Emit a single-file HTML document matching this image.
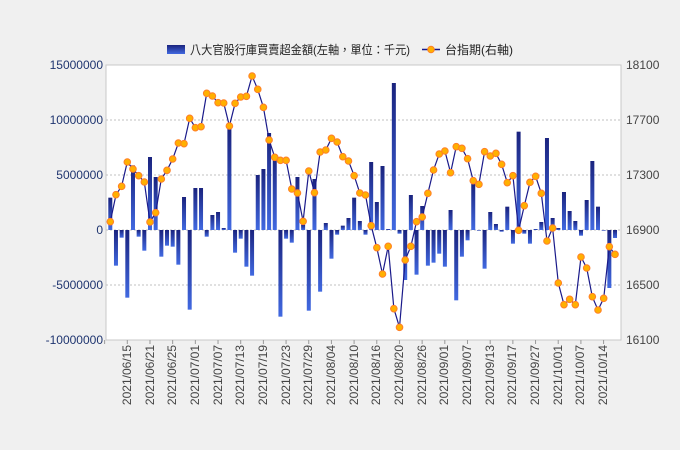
<!DOCTYPE html>
<html><head><meta charset="utf-8"><style>
body{margin:0;background:#f0f0f0;width:680px;height:450px;overflow:hidden;font-family:"Liberation Sans","Noto Sans CJK TC",sans-serif;}
svg{position:absolute;left:0;top:0}
.l{font-size:12px;fill:#1f3570;text-anchor:end}
.r{font-size:12px;fill:#444;text-anchor:start}
.x{font-size:12px;fill:#444;text-anchor:end}
</style></head><body>
<svg width="680" height="450" xmlns="http://www.w3.org/2000/svg">
<defs>
<linearGradient id="g" x1="0" y1="0" x2="0" y2="1"><stop offset="0" stop-color="#1a237e"/><stop offset="1" stop-color="#4169e1"/></linearGradient>
</defs>
<rect x="106" y="65" width="515" height="275" fill="#fff" stroke="#c8c8c8"/>
<g stroke="#c0c0c0" stroke-dasharray="2,2">
<line x1="106" x2="621" y1="120" y2="120"/><line x1="106" x2="621" y1="175" y2="175"/>
<line x1="106" x2="621" y1="230" y2="230"/><line x1="106" x2="621" y1="285" y2="285"/>
</g>
<g id="bars"></g>
<polyline id="ln" fill="none" stroke="#1a1a8a" stroke-width="1.2"/>
<g id="pts"></g>
<g id="ticks" stroke="#999"></g>
<text class="l" x="103" y="69">15000000</text>
<text class="l" x="103" y="124">10000000</text>
<text class="l" x="103" y="179">5000000</text>
<text class="l" x="103" y="234">0</text>
<text class="l" x="103" y="289">-5000000</text>
<text class="l" x="103" y="344">-10000000</text>
<text class="r" x="626" y="69">18100</text>
<text class="r" x="626" y="124">17700</text>
<text class="r" x="626" y="179">17300</text>
<text class="r" x="626" y="234">16900</text>
<text class="r" x="626" y="289">16500</text>
<text class="r" x="626" y="344">16100</text>
<g id="xl">
<text class="x" transform="translate(131,345) rotate(-90)">2021/06/15</text>
<text class="x" transform="translate(154,345) rotate(-90)">2021/06/21</text>
<text class="x" transform="translate(176,345) rotate(-90)">2021/06/25</text>
<text class="x" transform="translate(199,345) rotate(-90)">2021/07/01</text>
<text class="x" transform="translate(222,345) rotate(-90)">2021/07/07</text>
<text class="x" transform="translate(244,345) rotate(-90)">2021/07/13</text>
<text class="x" transform="translate(267,345) rotate(-90)">2021/07/19</text>
<text class="x" transform="translate(290,345) rotate(-90)">2021/07/23</text>
<text class="x" transform="translate(312,345) rotate(-90)">2021/07/29</text>
<text class="x" transform="translate(335,345) rotate(-90)">2021/08/04</text>
<text class="x" transform="translate(358,345) rotate(-90)">2021/08/10</text>
<text class="x" transform="translate(380,345) rotate(-90)">2021/08/16</text>
<text class="x" transform="translate(403,345) rotate(-90)">2021/08/20</text>
<text class="x" transform="translate(426,345) rotate(-90)">2021/08/26</text>
<text class="x" transform="translate(448,345) rotate(-90)">2021/09/01</text>
<text class="x" transform="translate(471,345) rotate(-90)">2021/09/07</text>
<text class="x" transform="translate(494,345) rotate(-90)">2021/09/13</text>
<text class="x" transform="translate(516,345) rotate(-90)">2021/09/17</text>
<text class="x" transform="translate(539,345) rotate(-90)">2021/09/27</text>
<text class="x" transform="translate(562,345) rotate(-90)">2021/10/01</text>
<text class="x" transform="translate(584,345) rotate(-90)">2021/10/07</text>
<text class="x" transform="translate(607,345) rotate(-90)">2021/10/14</text>
</g>
<rect x="167" y="45" width="18" height="9" fill="url(#g)"/>
<text x="190" y="54" textLength="220" lengthAdjust="spacingAndGlyphs" style="font-size:12px;fill:#222">八大官股行庫買賣超金額(左軸，單位：千元)</text>
<line x1="422" x2="440" y1="49.5" y2="49.5" stroke="#1a1a8a" stroke-width="1.5"/>
<circle cx="431" cy="49.5" r="3.3" fill="#ffb000" stroke="#ff7f27"/>
<text x="445" y="54" style="font-size:12px;fill:#222">台指期(右軸)</text>
</svg>
<script>
var B=[413,617,533,713,316,530,572,291,351,590,557,560,614,411,749,384,384,530,465,456,504,205,578,536,620,647,345,327,219,283,770,536,548,351,494,752,357,695,489,596,524,497,474,413,483,524,306,426,318,507,69,521,660,405,644,438,617,608,581,620,450,721,590,541,372,512,626,456,492,515,440,551,215,521,551,507,486,234,474,504,396,453,483,527,420,303,440,512,684,534];
var P=[485,404,379,306,327,347,366,486,458,357,331,297,249,251,175,203,200,100,108,128,129,198,130,111,109,48,88,142,240,292,301,301,387,399,484,333,398,276,270,235,246,290,303,347,399,405,497,563,642,559,746,802,600,559,485,471,400,330,282,273,338,260,265,296,362,373,275,288,280,313,368,347,511,437,367,349,400,543,504,669,734,718,734,591,624,710,750,715,560,583];
var ns="http://www.w3.org/2000/svg",b=document.getElementById('bars'),pg=document.getElementById('pts'),tk=document.getElementById('ticks'),pts=[];
function el(t,a,p){var e=document.createElementNS(ns,t);for(var k in a)e.setAttribute(k,a[k]);p.appendChild(e);}
for(var i=0;i<90;i++){var x=110.3+i*5.671,y=60+B[i]/3,y1=Math.min(y,230),h=Math.abs(y-230);
el('rect',{x:x-2,y:y1,width:4,height:Math.max(h,0.6),fill:'url(#g)'},b);
var py=60+P[i]/3;pts.push(x.toFixed(1)+','+py.toFixed(1));el('circle',{cx:x,cy:py,r:3.3,fill:'#ffb000',stroke:'#ff7f27','stroke-width':1},pg);}
document.getElementById('ln').setAttribute('points',pts.join(' '));
for(var k=-1;k<22;k++){var tx=127.3+k*22.68;el('line',{x1:tx,x2:tx,y1:340,y2:344},tk);}
</script>
</body></html>
